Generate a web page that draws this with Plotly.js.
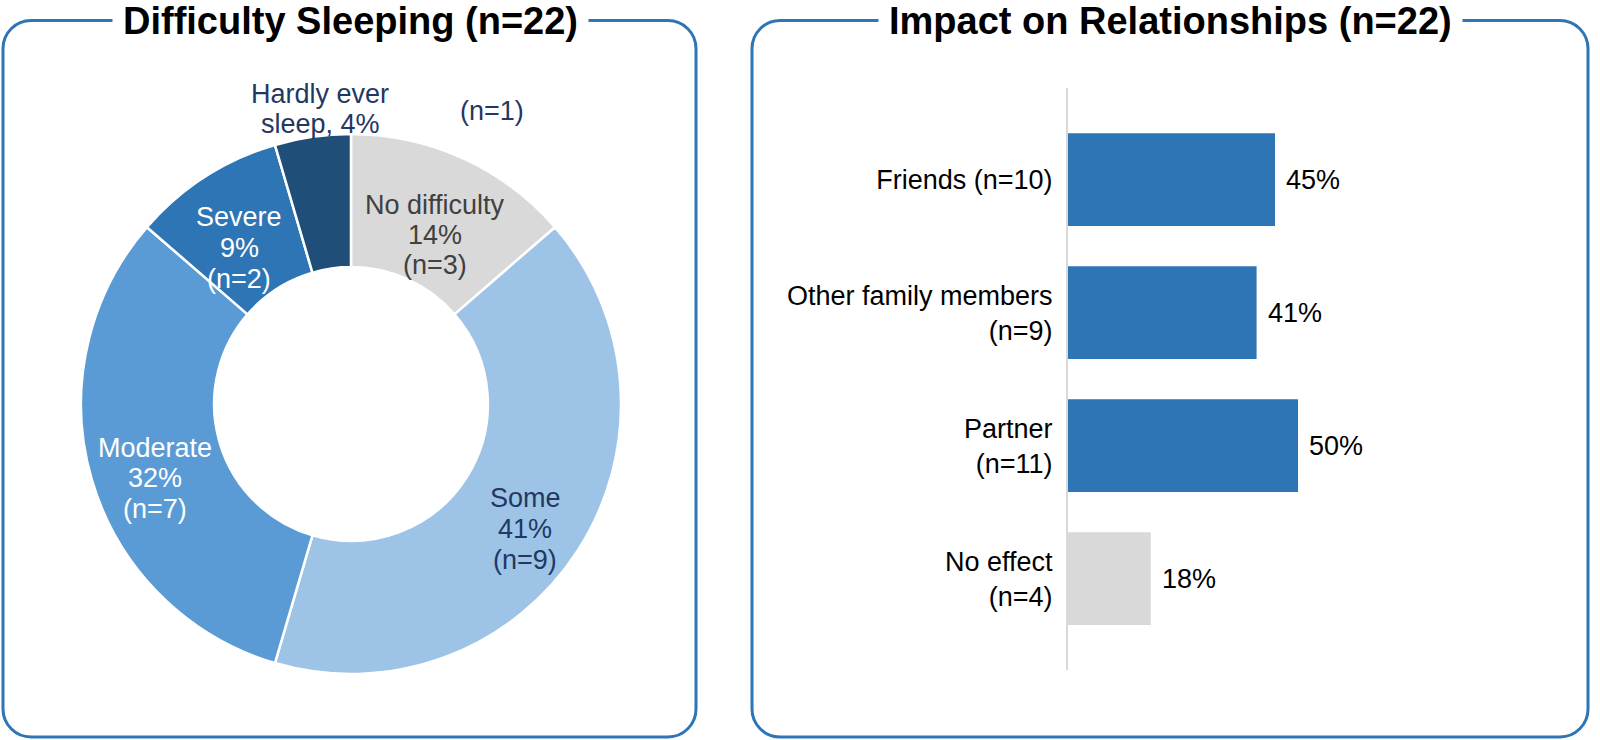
<!DOCTYPE html>
<html>
<head>
<meta charset="utf-8">
<script src="https://cdn.plot.ly/plotly-3.0.1.min.js"></script>
<style>
  html, body { margin: 0; padding: 0; background: #ffffff; }
  #chart { width: 1600px; height: 740px; }
</style>
</head>
<body>
<div id="chart"></div>
<script>
// ---------------- DATA ----------------
const sleepCategories = ['No difficulty', 'Some', 'Moderate', 'Severe', 'Hardly ever sleep'];
const sleepCounts = [3, 9, 7, 2, 1];
const sleepPercents = [14, 41, 32, 9, 4];
const sleepTotal = 22;

const relCategories = ['Friends (n=10)', 'Other family members<br>(n=9)', 'Partner<br>(n=11)', 'No effect<br>(n=4)'];
const relPercents = [45, 41, 50, 18];
const relTotal = 22;

// ---------------- STYLE ----------------
const W = 1600, H = 740;
const FONT = 'Liberation Sans, Arial, Helvetica, sans-serif';
const BORDER = '#2e75b6';
const sliceColors = ['#d9d9d9', '#9dc3e6', '#5b9bd5', '#2e75b6', '#1f4e79'];
const sliceTextColors = ['#404040', '#1f3864', '#ffffff', '#ffffff', '#1f3864'];
const barColors = ['#2e75b6', '#2e75b6', '#2e75b6', '#d9d9d9'];
const LABEL_SIZE = 27;

const px = x => x / W;
const py = y => 1 - y / H;

function roundedRect(x0, y0, x1, y1, r) {
  const k = 0.5523 * r;
  const P = (x, y) => px(x).toFixed(5) + ',' + py(y).toFixed(5);
  return 'M' + P(x0 + r, y0) +
    ' L' + P(x1 - r, y0) +
    ' C' + P(x1 - r + k, y0) + ' ' + P(x1, y0 + r - k) + ' ' + P(x1, y0 + r) +
    ' L' + P(x1, y1 - r) +
    ' C' + P(x1, y1 - r + k) + ' ' + P(x1 - r + k, y1) + ' ' + P(x1 - r, y1) +
    ' L' + P(x0 + r, y1) +
    ' C' + P(x0 + r - k, y1) + ' ' + P(x0, y1 - r + k) + ' ' + P(x0, y1 - r) +
    ' L' + P(x0, y0 + r) +
    ' C' + P(x0, y0 + r - k) + ' ' + P(x0 + r - k, y0) + ' ' + P(x0 + r, y0) + ' Z';
}

// label block centres for the donut (layout positions, px)
const sliceLabelPos = [[435, 235], [525, 529], [155, 478], [239, 248], [320, 109]];
const nOnePos = [492, 111];

const annotations = [];
function addLines(lines, cx, cy, color, size, spacing) {
  lines.forEach((t, i) => {
    annotations.push({
      xref: 'paper', yref: 'paper',
      x: px(cx), y: py(cy + (i - (lines.length - 1) / 2) * spacing),
      xanchor: 'center', yanchor: 'middle',
      text: t, showarrow: false,
      font: { family: FONT, size: size, color: color }
    });
  });
}

sleepCategories.forEach((c, i) => {
  let lines;
  if (i === sleepCategories.length - 1) {
    lines = ['Hardly ever', 'sleep, ' + sleepPercents[i] + '%'];
    addLines(['(n=' + sleepCounts[i] + ')'], nOnePos[0], nOnePos[1], sliceTextColors[i], LABEL_SIZE, 30.5);
  } else {
    lines = [c, sleepPercents[i] + '%', '(n=' + sleepCounts[i] + ')'];
  }
  addLines(lines, sliceLabelPos[i][0], sliceLabelPos[i][1], sliceTextColors[i], LABEL_SIZE, 30.5);
});

// titles
annotations.push({
  xref: 'paper', yref: 'paper', x: px(350), y: py(21.5),
  xanchor: 'center', yanchor: 'middle', showarrow: false,
  text: '<b>Difficulty Sleeping (n=' + sleepTotal + ')</b>',
  font: { family: FONT, size: 38, color: '#000000' },
  bgcolor: '#ffffff', borderpad: 10
});
annotations.push({
  xref: 'paper', yref: 'paper', x: px(1170), y: py(21.5),
  xanchor: 'center', yanchor: 'middle', showarrow: false,
  text: '<b>Impact on Relationships (n=' + relTotal + ')</b>',
  font: { family: FONT, size: 38, color: '#000000' },
  bgcolor: '#ffffff', borderpad: 10
});

// bar value labels
relCategories.forEach((c, i) => {
  annotations.push({
    xref: 'x', yref: 'y', x: relPercents[i], y: c,
    xanchor: 'left', yanchor: 'middle', xshift: 9, showarrow: false,
    text: relPercents[i] + '%',
    font: { family: FONT, size: LABEL_SIZE, color: '#000000' }
  });
});

const shapes = [
  { type: 'path', xref: 'paper', yref: 'paper', path: roundedRect(3, 20.5, 696, 737, 28),
    line: { color: BORDER, width: 3 }, layer: 'below' },
  { type: 'path', xref: 'paper', yref: 'paper', path: roundedRect(752, 20.5, 1588, 737, 28),
    line: { color: BORDER, width: 3 }, layer: 'below' }
];

const pieTrace = {
  type: 'pie',
  labels: sleepCategories,
  values: sleepCounts,
  sort: false,
  direction: 'clockwise',
  rotation: 0,
  hole: 0.507,
  textinfo: 'none',
  hoverinfo: 'skip',
  showlegend: false,
  marker: { colors: sliceColors, line: { color: '#ffffff', width: 2.5 } },
  domain: { x: [px(81), px(621)], y: [py(674), py(134)] }
};

const barTrace = {
  type: 'bar',
  orientation: 'h',
  y: relCategories,
  x: relPercents,
  marker: { color: barColors },
  hoverinfo: 'skip',
  showlegend: false,
  xaxis: 'x', yaxis: 'y'
};

const layout = {
  width: W, height: H,
  margin: { l: 0, r: 0, t: 0, b: 0, pad: 0 },
  paper_bgcolor: '#ffffff', plot_bgcolor: 'rgba(0,0,0,0)',
  font: { family: FONT, color: '#000000' },
  bargap: 0.303,
  showlegend: false,
  xaxis: {
    domain: [px(1068), px(1560)],
    range: [0, (1560 - 1068) / 4.6],
    visible: false, fixedrange: true
  },
  yaxis: {
    domain: [py(670), py(88.3)],
    type: 'category',
    categoryorder: 'array', categoryarray: relCategories,
    range: [3.687, -0.687],
    showgrid: false, zeroline: false,
    showline: true, linecolor: '#d9d9d9', linewidth: 2,
    ticks: '', ticklabelstandoff: 8,
    tickfont: { family: FONT, size: LABEL_SIZE, color: '#000000' },
    automargin: false, fixedrange: true
  },
  shapes: shapes,
  annotations: annotations
};

Plotly.newPlot('chart', [pieTrace, barTrace], layout, { staticPlot: true, displayModeBar: false });
</script>
</body>
</html>
